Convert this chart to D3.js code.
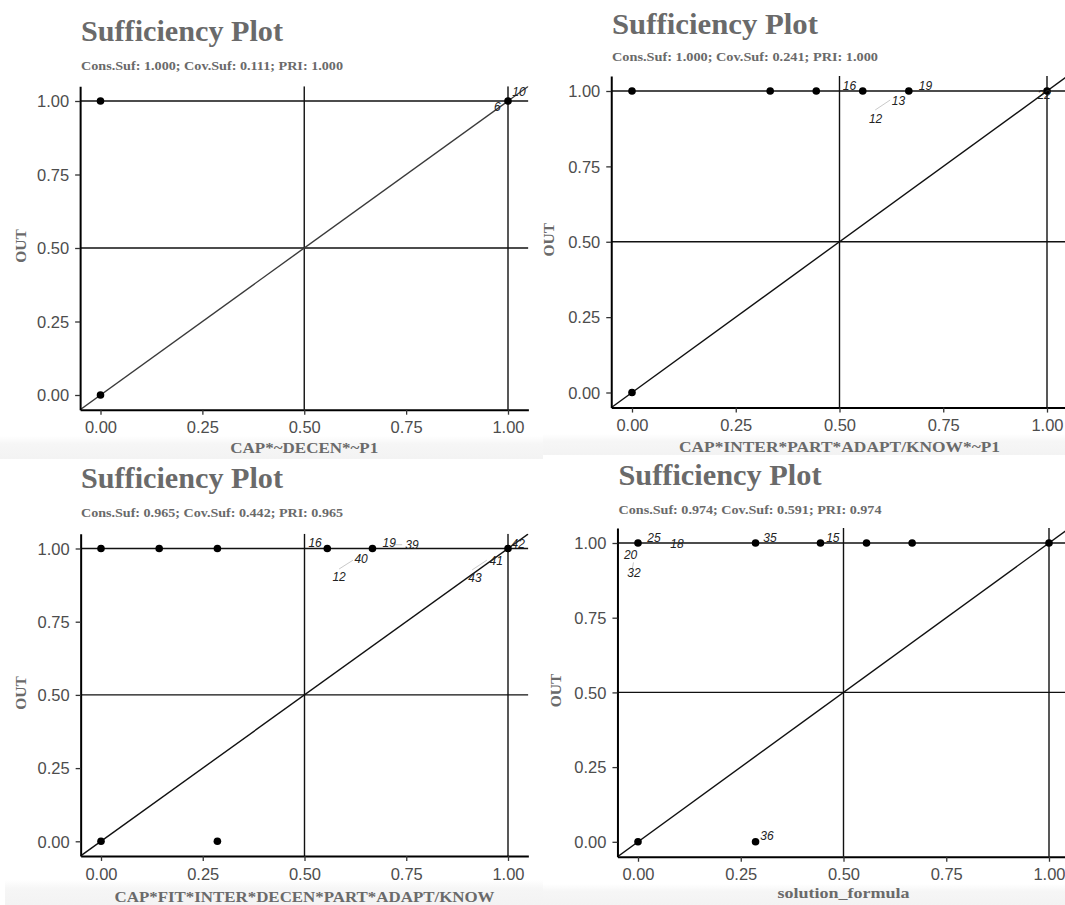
<!DOCTYPE html>
<html><head><meta charset="utf-8">
<script src="https://cdn.jsdelivr.net/npm/d3@7"></script>
<style>body{margin:0;background:#fff} svg{display:block}</style>
</head><body>
<svg id="c" width="1065" height="905"></svg>
<script>
// ---------- data ----------
const titles = ["Sufficiency Plot", "Sufficiency Plot", "Sufficiency Plot", "Sufficiency Plot"];
const subtitles = [
  "Cons.Suf: 1.000; Cov.Suf: 0.111; PRI: 1.000",
  "Cons.Suf: 1.000; Cov.Suf: 0.241; PRI: 1.000",
  "Cons.Suf: 0.965; Cov.Suf: 0.442; PRI: 0.965",
  "Cons.Suf: 0.974; Cov.Suf: 0.591; PRI: 0.974"
];
const xTitles = ["CAP*~DECEN*~P1", "CAP*INTER*PART*ADAPT/KNOW*~P1", "CAP*FIT*INTER*DECEN*PART*ADAPT/KNOW", "solution_formula"];
const yTitle = "OUT";
const tickValues = [0, 0.25, 0.5, 0.75, 1];
const tickLabels = ["0.00", "0.25", "0.50", "0.75", "1.00"];
const refLines = [0.5, 1];

// panel 1
const p1X = [0, 0, 1];
const p1Y = [1, 0, 1];
const p1Labels = ["10", "6"];
const p1LabelX = [1.027, 0.974];
const p1LabelY = [1.031, 0.980];
const p1Segs = [];

// panel 2
const p2X = [0, 0.333, 0.444, 0.556, 0.667, 1, 0];
const p2Y = [1, 1, 1, 1, 1, 1, 0];
const p2Labels = ["16", "19", "13", "12", "22"];
const p2LabelX = [0.524, 0.707, 0.642, 0.587, 0.993];
const p2LabelY = [1.017, 1.017, 0.967, 0.907, 0.987];
const p2Segs = [[0.586, 0.937, 0.622, 0.970]];

// panel 3
const p3X = [0, 0.143, 0.286, 0.556, 0.667, 1, 0, 0.286];
const p3Y = [1, 1, 1, 1, 1, 1, 0, 0];
const p3Labels = ["16", "19", "39", "40", "12", "41", "43", "42"];
const p3LabelX = [0.526, 0.708, 0.764, 0.639, 0.585, 0.971, 0.919, 1.025];
const p3LabelY = [1.020, 1.019, 1.012, 0.964, 0.902, 0.957, 0.899, 1.015];
const p3Segs = [[0.740, 1.013, 0.715, 1.013], [0.585, 0.930, 0.619, 0.960], [0.912, 0.927, 0.948, 0.960]];

// panel 4
const p4X = [0, 0.286, 0.444, 0.556, 0.667, 1, 0, 0.286];
const p4Y = [1, 1, 1, 1, 1, 1, 0, 0];
const p4Labels = ["25", "18", "20", "32", "35", "15", "36"];
const p4LabelX = [0.039, 0.095, -0.018, -0.010, 0.321, 0.474, 0.314];
const p4LabelY = [1.017, 0.997, 0.960, 0.900, 1.017, 1.017, 0.019];
const p4Segs = [[-0.011, 0.935, -0.014, 0.912]];

// ---------- layout (pixels) ----------
const layout = [
  {xa: 100.5, xb: 508, ya: 395, yb: 101, titleX: 81, titleY: 41, subY: 69.5, xtY: 453, ytX: 26, tw: 202, sw: 262, xw: 148, diag: "#3a3a3a"},
  {xa: 632, xb: 1047, ya: 392.5, yb: 91, titleX: 612, titleY: 33.5, subY: 61, xtY: 452, ytX: 553.5, tw: 206, sw: 266, xw: 321, diag: "#111"},
  {xa: 101, xb: 508, ya: 841.3, yb: 548.5, titleX: 81, titleY: 488, subY: 516.5, xtY: 902, ytX: 26, tw: 202, sw: 262, xw: 380, diag: "#111"},
  {xa: 638, xb: 1049, ya: 841.8, yb: 543, titleX: 618.5, titleY: 485, subY: 513.5, xtY: 898, ytX: 561, tw: 203, sw: 263, xw: 132, diag: "#111"}
];

const panels = [
  {x: p1X, y: p1Y, lab: p1Labels, lx: p1LabelX, ly: p1LabelY, segs: p1Segs},
  {x: p2X, y: p2Y, lab: p2Labels, lx: p2LabelX, ly: p2LabelY, segs: p2Segs},
  {x: p3X, y: p3Y, lab: p3Labels, lx: p3LabelX, ly: p3LabelY, segs: p3Segs},
  {x: p4X, y: p4Y, lab: p4Labels, lx: p4LabelX, ly: p4LabelY, segs: p4Segs}
];

const svg = d3.select("#c");
const defs = svg.append("defs");
const grad = defs.append("linearGradient").attr("id", "band").attr("x1", 0).attr("x2", 0).attr("y1", 0).attr("y2", 1);
grad.append("stop").attr("offset", "0%").attr("stop-color", "#ffffff");
grad.append("stop").attr("offset", "35%").attr("stop-color", "#f6f6f6");
grad.append("stop").attr("offset", "100%").attr("stop-color", "#f3f3f3");

// faint screenshot bands
svg.append("rect").attr("x", 0).attr("y", 436).attr("width", 543).attr("height", 23).attr("fill", "url(#band)");
svg.append("rect").attr("x", 543).attr("y", 434).attr("width", 522).attr("height", 21).attr("fill", "url(#band)");
svg.append("rect").attr("x", 5).attr("y", 880).attr("width", 538).attr("height", 25).attr("fill", "url(#band)");
svg.append("rect").attr("x", 543).attr("y", 884).attr("width", 522).attr("height", 21).attr("fill", "url(#band)");

const serif = "'Liberation Serif', 'DejaVu Serif', serif";
const sans = "'Liberation Sans', Arial, sans-serif";

panels.forEach((p, i) => {
  const L = layout[i];
  const x = d3.scaleLinear().domain([0, 1]).range([L.xa, L.xb]);
  const y = d3.scaleLinear().domain([0, 1]).range([L.ya, L.yb]);
  const xl = x(-0.05), xr = x(1.05), yt = y(1.05), ybt = y(-0.05);
  const g = svg.append("g");

  defs.append("clipPath").attr("id", "clip" + i)
    .append("rect").attr("x", xl).attr("y", yt).attr("width", xr - xl).attr("height", ybt - yt);
  const inner = g.append("g").attr("clip-path", `url(#clip${i})`);

  // reference lines
  refLines.forEach(v => {
    inner.append("line").attr("x1", xl).attr("x2", xr).attr("y1", y(v)).attr("y2", y(v))
      .attr("stroke", "#111").attr("stroke-width", 1.4);
    inner.append("line").attr("y1", yt).attr("y2", ybt).attr("x1", x(v)).attr("x2", x(v))
      .attr("stroke", "#111").attr("stroke-width", 1.4);
  });
  // diagonal
  inner.append("line").attr("x1", x(-0.05)).attr("y1", y(-0.05)).attr("x2", x(1.05)).attr("y2", y(1.05))
    .attr("stroke", L.diag).attr("stroke-width", 1.4);

  // segments
  p.segs.forEach(s => {
    inner.append("line").attr("x1", x(s[0])).attr("y1", y(s[1])).attr("x2", x(s[2])).attr("y2", y(s[3]))
      .attr("stroke", "#bbb").attr("stroke-width", 0.8);
  });

  // points
  inner.selectAll("circle").data(p.x.map((v, k) => [v, p.y[k]])).join("circle")
    .attr("cx", d => x(d[0])).attr("cy", d => y(d[1])).attr("r", 3.8).attr("fill", "#000");

  // labels
  g.selectAll("text.lab").data(p.lab.map((t, k) => [t, p.lx[k], p.ly[k]])).join("text")
    .attr("class", "lab")
    .attr("x", d => x(d[1])).attr("y", d => y(d[2]))
    .attr("text-anchor", "middle").attr("dominant-baseline", "central")
    .attr("font-family", sans).attr("font-style", "italic").attr("font-size", 12)
    .attr("fill", "#222").text(d => d[0]);

  // axes
  const xScaleFull = d3.scaleLinear().domain([-0.05, 1.05]).range([xl, xr]);
  const yScaleFull = d3.scaleLinear().domain([-0.05, 1.05]).range([ybt, yt]);
  const xAxis = d3.axisBottom(xScaleFull).tickValues(tickValues).tickFormat((d, k) => tickLabels[k])
    .tickSizeInner(5).tickSizeOuter(0).tickPadding(7);
  const yAxis = d3.axisLeft(yScaleFull).tickValues(tickValues).tickFormat((d, k) => tickLabels[k])
    .tickSizeInner(5).tickSizeOuter(0).tickPadding(6);
  const gx = g.append("g").attr("transform", `translate(0,${ybt})`).call(xAxis);
  const gy = g.append("g").attr("transform", `translate(${xl},0)`).call(yAxis);
  [gx, gy].forEach(a => {
    a.select(".domain").attr("stroke", "#000").attr("stroke-width", 2);
    a.selectAll(".tick line").attr("stroke", "#333").attr("stroke-width", 1.3);
    a.selectAll(".tick text").attr("font-family", sans).attr("font-size", 16.5).attr("fill", "#4d4d4d");
  });
  gy.selectAll(".tick text").attr("dy", "0.35em");

  // titles
  g.append("text").attr("x", L.titleX).attr("y", L.titleY).text(titles[i])
    .attr("font-family", serif).attr("font-weight", "bold").attr("font-size", 30)
    .attr("fill", "#6a6a6a").attr("textLength", L.tw).attr("lengthAdjust", "spacingAndGlyphs");
  g.append("text").attr("x", L.titleX).attr("y", L.subY).text(subtitles[i])
    .attr("font-family", serif).attr("font-weight", "bold").attr("font-size", 12.5)
    .attr("fill", "#6a6a6a").attr("textLength", L.sw).attr("lengthAdjust", "spacingAndGlyphs");
  g.append("text").attr("x", (xl + xr) / 2).attr("y", L.xtY).text(xTitles[i])
    .attr("text-anchor", "middle")
    .attr("font-family", serif).attr("font-weight", "bold").attr("font-size", 15)
    .attr("fill", "#6a6a6a").attr("textLength", L.xw).attr("lengthAdjust", "spacingAndGlyphs");
  g.append("text").attr("transform", `translate(${L.ytX},${(yt + ybt) / 2 - 2}) rotate(-90)`).text(yTitle)
    .attr("text-anchor", "middle")
    .attr("font-family", serif).attr("font-weight", "bold").attr("font-size", 15.5)
    .attr("fill", "#6a6a6a");
});
</script>
</body></html>
